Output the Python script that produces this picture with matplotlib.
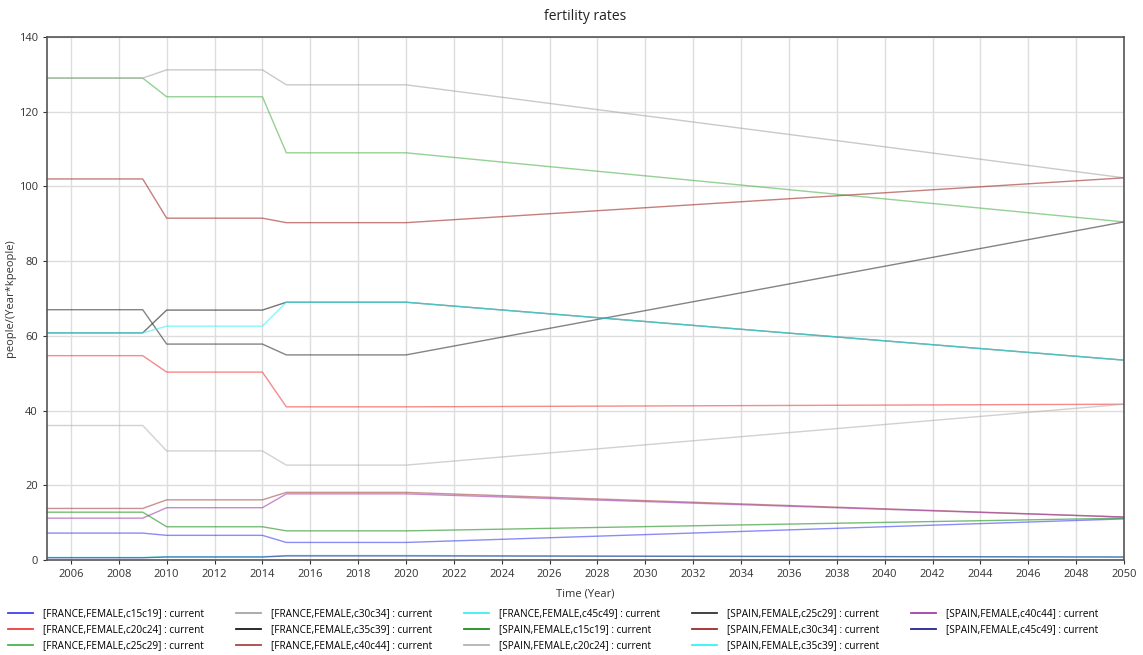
import matplotlib
matplotlib.use("Agg")
import matplotlib.pyplot as plt

plt.rcParams["font.family"] = ["Open Sans", "DejaVu Sans"]

# breakpoints of the piecewise series (years)
years = [2005, 2009, 2010, 2014, 2015, 2020, 2050]

fr_c15c19 = [7.2, 7.2, 6.6, 6.6, 4.7, 4.7, 11.0]
fr_c20c24 = [54.7, 54.7, 50.3, 50.3, 41.0, 41.0, 41.7]
fr_c25c29 = [129.0, 129.0, 124.0, 124.0, 109.0, 109.0, 90.5]
fr_c30c34 = [129.0, 129.0, 131.2, 131.2, 127.2, 127.2, 102.3]
fr_c35c39 = [60.8, 60.8, 66.9, 66.9, 69.0, 69.0, 53.5]
fr_c40c44 = [13.8, 13.8, 16.1, 16.1, 18.1, 18.1, 11.5]
fr_c45c49 = [0.7, 0.7, 0.9, 0.9, 1.2, 1.2, 0.8]
es_c15c19 = [12.8, 12.8, 8.9, 8.9, 7.8, 7.8, 11.2]
es_c20c24 = [36.0, 36.0, 29.2, 29.2, 25.4, 25.4, 41.7]
es_c25c29 = [67.0, 67.0, 57.8, 57.8, 54.9, 54.9, 90.5]
es_c30c34 = [102.0, 102.0, 91.5, 91.5, 90.3, 90.3, 102.3]
es_c35c39 = [60.8, 60.8, 62.6, 62.6, 69.0, 69.0, 53.5]
es_c40c44 = [11.2, 11.2, 14.0, 14.0, 17.7, 17.7, 11.5]
es_c45c49 = [0.6, 0.6, 0.8, 0.8, 1.1, 1.1, 0.8]

labels = [
    "[FRANCE,FEMALE,c15c19] : current",
    "[FRANCE,FEMALE,c20c24] : current",
    "[FRANCE,FEMALE,c25c29] : current",
    "[FRANCE,FEMALE,c30c34] : current",
    "[FRANCE,FEMALE,c35c39] : current",
    "[FRANCE,FEMALE,c40c44] : current",
    "[FRANCE,FEMALE,c45c49] : current",
    "[SPAIN,FEMALE,c15c19] : current",
    "[SPAIN,FEMALE,c20c24] : current",
    "[SPAIN,FEMALE,c25c29] : current",
    "[SPAIN,FEMALE,c30c34] : current",
    "[SPAIN,FEMALE,c35c39] : current",
    "[SPAIN,FEMALE,c40c44] : current",
    "[SPAIN,FEMALE,c45c49] : current",
]
series = [fr_c15c19, fr_c20c24, fr_c25c29, fr_c30c34, fr_c35c39, fr_c40c44,
          fr_c45c49, es_c15c19, es_c20c24, es_c25c29, es_c30c34, es_c35c39,
          es_c40c44, es_c45c49]
colors = ["#3f3ff5", "#f23c3c", "#4db34d", "#a6a6a6", "#1a1a1a", "#a84848",
          "#40f0f0", "#1f8f1f", "#b3b3b3", "#333333", "#a02828", "#33f5f5",
          "#a040a8", "#23238a"]

fig = plt.figure(figsize=(11.43, 6.55), dpi=100)
ax = fig.add_axes([47 / 1143, 1 - 560 / 655, (1124 - 47) / 1143, (560 - 37) / 655])

for vals, lab, col in zip(series, labels, colors):
    ax.plot(years, vals, color=col, lw=1.0, alpha=0.6, label=lab)

ax.set_xlim(2005, 2050)
ax.set_ylim(0, 140)
ax.set_xticks(range(2006, 2051, 2))
ax.set_yticks(range(0, 141, 20))
ax.grid(True, color="#dddddd", lw=1.0)
ax.set_axisbelow(True)
for sp in ax.spines.values():
    sp.set_color("#555555")
    sp.set_linewidth(1.2)
ax.tick_params(labelsize=8, colors="#333333", length=3, width=0.8)

ax.set_title("fertility rates", fontsize=10, color="#222222", pad=12)
ax.set_xlabel("Time (Year)", fontsize=8, color="#333333", labelpad=6)
ax.set_ylabel("people/(Year*kpeople)", fontsize=8, color="#333333", labelpad=2)

leg = fig.legend(loc="upper left", bbox_to_anchor=(4 / 1143, 1 - 604 / 655), ncol=5,
                 frameon=False, fontsize=7.2, handlelength=2.5, handletextpad=1.0,
                 columnspacing=3.2, labelspacing=0.5, borderaxespad=0)
for h in leg.get_lines():
    h.set_alpha(1.0)
    h.set_linewidth(1.3)

fig.savefig("out.png", dpi=100)
